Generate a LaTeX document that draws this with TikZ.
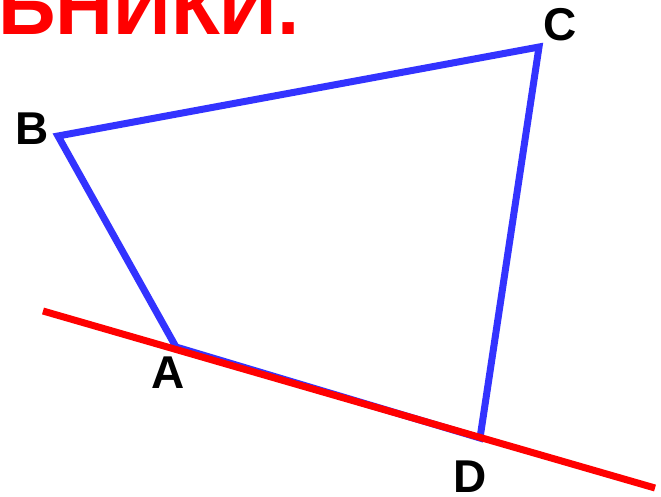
\documentclass[tikz,border=0pt]{standalone}
\usepackage{fontspec}
\setmainfont{Liberation Sans}
\usepackage{tikz}

\definecolor{quadblue}{RGB}{51,51,255}

\begin{document}
\begin{tikzpicture}[x=1pt, y=-1pt]
        \useasboundingbox (0,0) rectangle (661,496);

        \coordinate (A) at (176, 347);
        \coordinate (B) at (58, 136);
        \coordinate (C) at (539, 47);
        \coordinate (D) at (480, 438);
        \coordinate (P) at (43, 311);
        \coordinate (Q) at (655, 488);

        \draw[quadblue, line width=7pt] (A) -- (B) -- (C) -- (D) -- (A);
        \draw[red, line width=7pt] (P) -- (Q);

        \node[font=\bfseries\fontsize{46}{46}\selectfont, inner sep=0pt] (lA) at (168, 373) {A};
        \node[font=\bfseries\fontsize{46}{46}\selectfont, inner sep=0pt] (lB) at (32, 129) {B};
        \node[font=\bfseries\fontsize{46}{46}\selectfont, inner sep=0pt] (lC) at (560, 25) {C};
        \node[font=\bfseries\fontsize{46}{46}\selectfont, inner sep=0pt] (lD) at (470, 477) {D};

        \node[red, font=\bfseries\fontsize{80}{80}\selectfont, inner sep=0pt, anchor=base west] (title) at (-2, 34) {ЬНИКИ.};
    \end{tikzpicture}
\end{document}
